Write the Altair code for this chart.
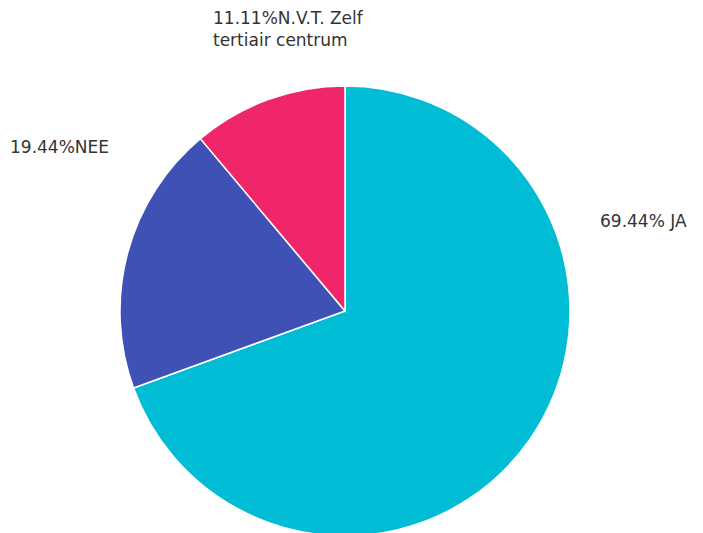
import altair as alt
import pandas as pd

categories = ["JA", "NEE", "N.V.T. Zelf tertiair centrum"]
values = [69.44, 19.44, 11.11]
labels = ["69.44% JA", "19.44%NEE", "11.11%N.V.T. Zelf\ntertiair centrum"]
colors = ["#00BCD4", "#3F51B5", "#F0266A"]

df = pd.DataFrame({"cat": categories, "val": values, "ord": [0, 1, 2]})

pie = alt.Chart(df).mark_arc(outerRadius=225, stroke="white", strokeWidth=1.5).encode(
    theta=alt.Theta("val:Q", stack=True),
    order=alt.Order("ord:Q"),
    color=alt.Color("cat:N", scale=alt.Scale(domain=categories, range=colors), legend=None),
)

# label anchor positions (layout, chart pixel coordinates)
label_pos = [(592, 214, "middle"), (2, 140, "middle"), (205, 3, "top")]

layers = [pie]
for lab, (x, y, base) in zip(labels, label_pos):
    t = alt.Chart(pd.DataFrame({"t": [lab]})).mark_text(
        align="left", baseline=base, font="DejaVu Sans", fontSize=17,
        color="#333333", lineBreak="\n", lineHeight=22,
    ).encode(text="t:N", x=alt.value(x), y=alt.value(y))
    layers.append(t)

chart = alt.layer(*layers).properties(width=674, height=606, padding=0).configure_view(stroke=None)
chart.save("out.html", embed_options={"renderer": "svg", "actions": False})
